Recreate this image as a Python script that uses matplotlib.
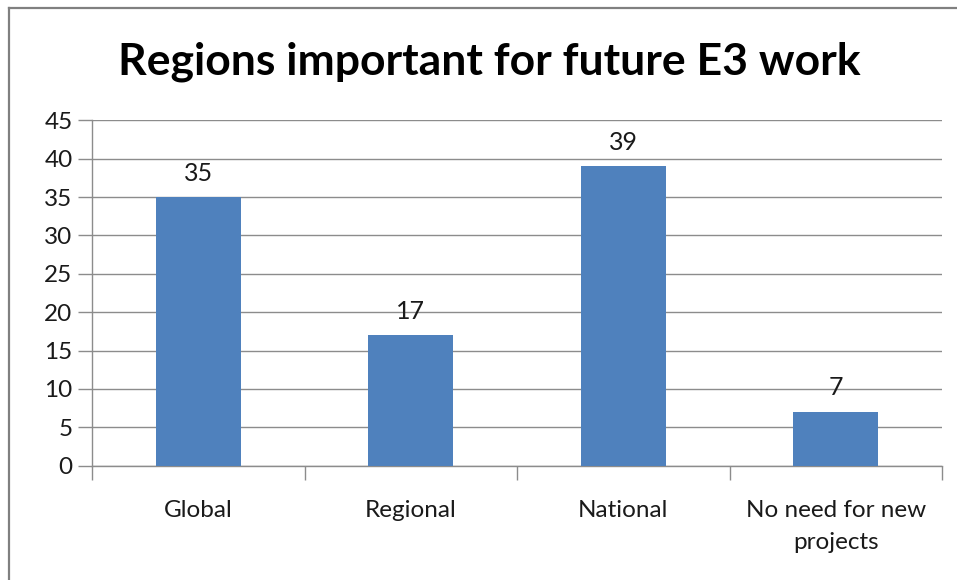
import matplotlib

matplotlib.use("Agg")
import matplotlib.pyplot as plt
from matplotlib.lines import Line2D

categories = ["Global", "Regional", "National", "No need for new\nprojects"]
values = [35, 17, 39, 7]
y_ticks = [0, 5, 10, 15, 20, 25, 30, 35, 40, 45]

bar_color = "#4F81BD"
grid_color = "#8C8C8C"
text_color = "#1a1a1a"

plt.rcParams["font.family"] = ["Lato", "DejaVu Sans"]

fig = plt.figure(figsize=(9.57, 5.8), dpi=100)
fig.patch.set_facecolor("white")

# chart frame (only top and left edges are visible in the crop)
fig.add_artist(Line2D([9 / 957, 9 / 957], [0, 1 - 8 / 580], color="#808080", linewidth=1.6))
fig.add_artist(Line2D([9 / 957, 1], [1 - 8 / 580, 1 - 8 / 580], color="#808080", linewidth=1.6))

ax = fig.add_axes([92 / 957, 1 - 465.5 / 580, (942 - 92) / 957, (465.5 - 120.5) / 580])
x = list(range(len(categories)))
ax.bar(x, values, width=0.4, color=bar_color, zorder=3)
ax.set_xlim(-0.5, len(categories) - 0.5)
ax.set_ylim(0, 45)
ax.set_yticks(y_ticks)
ax.set_yticklabels([str(t) for t in y_ticks], fontsize=17.5, color=text_color)
ax.yaxis.grid(True, color=grid_color, linewidth=1.0, zorder=0)
ax.tick_params(axis="y", length=10, width=1.0, color=grid_color, pad=4)

ax.set_xticks(x)
ax.set_xticklabels(categories, fontsize=17.5, color=text_color, linespacing=1.65)
ax.tick_params(axis="x", length=0, pad=25)
ax.set_xticks([i - 0.5 for i in range(len(categories) + 1)], minor=True)
ax.tick_params(axis="x", which="minor", length=10, width=1.0, color=grid_color)

for side in ["top", "right"]:
    ax.spines[side].set_visible(False)
for side in ["left", "bottom"]:
    ax.spines[side].set_color(grid_color)
    ax.spines[side].set_linewidth(1.0)

for xi, v in zip(x, values):
    ax.annotate(str(v), (xi, v), xytext=(0, 9), textcoords="offset points",
                ha="center", va="bottom", fontsize=18, color=text_color)

fig.text(489 / 957, 1 - 62 / 580, "Regions important for future E3 work",
         ha="center", va="center", fontsize=32, fontweight="bold", color="black")

fig.savefig("out.png", dpi=100)
plt.close(fig)
